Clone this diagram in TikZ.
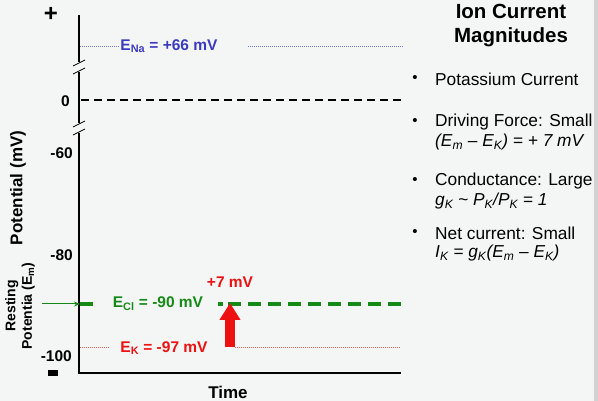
\documentclass[tikz,border=0pt]{standalone}
\usepackage{fontspec}
\setmainfont{Liberation Sans}
\usetikzlibrary{arrows.meta}
\definecolor{bg}{HTML}{F4F6F6}
\definecolor{naBlue}{HTML}{3B3BBE}
\definecolor{clGreen}{HTML}{168A16}
\definecolor{kRed}{HTML}{EE1111}
\tikzset{
  axisline/.style={line width=1.8pt, black},
  tick/.style={font=\fontsize{15.5}{17}\selectfont\bfseries, anchor=east, inner sep=0pt},
  lbl/.style={font=\fontsize{15.5}{17}\selectfont\bfseries, inner sep=0pt},
  itemtxt/.style={font=\fontsize{17.3}{20}\selectfont, anchor=west, inner sep=0pt},
  bullet/.style={font=\fontsize{15}{18}\selectfont, inner sep=0pt},
  brk/.style={line width=0.8pt, black},
  clline/.style={clGreen, line width=4.5pt},
}
\begin{document}
\begin{tikzpicture}[x=1pt,y=-1pt]
\useasboundingbox (0,0) rectangle (598,401);
\fill[bg] (0,0) rectangle (598,401);
\fill[gray!35] (594,0) rectangle (598,401);

% axes
\coordinate (top) at (79,15);
\coordinate (b1a) at (79,62);
\coordinate (b1b) at (79,72);
\coordinate (b2a) at (79,123);
\coordinate (b2b) at (79,133);
\coordinate (origin) at (79,373);
\coordinate (xend) at (401,373);
\draw[axisline] (top) -- (b1a);
\draw[axisline] (b1b) -- (b2a);
\draw[axisline] (b2b) -- (origin) -- (xend);
\draw[brk] (73,66) -- (85,60);
\draw[brk] (73,74) -- (85,68);
\draw[brk] (73,127) -- (85,121);
\draw[brk] (73,135) -- (85,129);

\node[font=\fontsize{24}{26}\selectfont\bfseries, inner sep=0pt] (plus) at (51,14) {+};
\fill[black] (48,370) rectangle (58,376);

% tick labels
\node[tick] (t0) at (70,101) {0};
\node[tick] (t60) at (73,153) {-60};
\node[tick] (t80) at (73,255) {-80};
\node[tick] (t100) at (72,356) {-100};

\node[lbl, rotate=90, font=\fontsize{17}{19}\selectfont\bfseries] (ylab) at (18,188) {Potential (mV)};
\node[lbl, rotate=90, align=center, font=\fontsize{14}{16.5}\selectfont\bfseries] (rest) at (20,306) {Resting\\Potentia (E\textsubscript{m})};
\node[lbl, font=\fontsize{17}{19}\selectfont\bfseries] (time) at (228,392) {Time};

% E_Na
\node[lbl, text=naBlue] (ena) at (169,46) {E\textsubscript{Na} = +66 mV};
\coordinate (ena0) at (80,46);
\coordinate (ena1) at (402,46);
\draw[naBlue!70, line width=0.6pt, dash pattern=on 1pt off 1pt] (ena0) -- ([xshift=-2pt]ena.west);
\draw[naBlue!70, line width=0.6pt, dash pattern=on 1pt off 1pt] ([xshift=30pt]ena.east) -- (ena1);

% zero line
\coordinate (z0) at (81,100);
\coordinate (z1) at (402,100);
\draw[black, line width=1.8pt, dash pattern=on 8pt off 5pt] (z0) -- (z1);

% E_Cl
\node[lbl, text=clGreen] (ecl) at (158,304) {E\textsubscript{Cl} = -90 mV};
\coordinate (cl0) at (80,304);
\coordinate (cl1) at (93,304);
\coordinate (cl2) at (218,304);
\coordinate (cl2b) at (223,304);
\coordinate (cl2c) at (228,304);
\coordinate (cl3) at (401,304);
\draw[clline] (cl0) -- (cl1);
\draw[clline] (cl2) -- (cl2b);
\draw[clline, dash pattern=on 13pt off 7pt] (cl2c) -- (cl3);
\coordinate (rarrow) at (42,304);
\draw[clGreen, line width=1pt, -{Stealth[length=6pt,width=5pt]}] (rarrow) -- (cl0);

% E_K
\node[lbl, text=kRed] (ek) at (164,348) {E\textsubscript{K} = -97 mV};
\coordinate (k0) at (80,347);
\coordinate (k1) at (110,347);
\coordinate (k2) at (235,347);
\coordinate (k3) at (401,347);
\draw[kRed!70, line width=0.6pt, dash pattern=on 1pt off 1pt] (k0) -- (k1);
\draw[kRed!70, line width=0.6pt, dash pattern=on 1pt off 1pt] (k2) -- (k3);

% red arrow
\coordinate (ra0) at (230,347);
\coordinate (ra1) at (230,303);
\draw[kRed, line width=10pt, -{Triangle[length=17pt,width=20pt]}] (ra0) -- (ra1);
\node[lbl, text=kRed] (plus7) at (230,282) {+7 mV};

% right panel
\node[align=center, font=\fontsize{20.5}{24}\selectfont\bfseries, inner sep=0pt] (title) at (511,26) {Ion Current\\Magnitudes};

\node[bullet] (b1) at (415,79) {•};
\node[itemtxt] (i1) at (435,79) {Potassium Current};
\node[bullet] (b2) at (415,122) {•};
\node[itemtxt] (i2) at (435,122) {Driving Force: Small};
\node[itemtxt] (i2b) at (435,142) {\itshape (E\textsubscript{m} – E\textsubscript{K}) = + 7 mV};
\node[bullet] (b3) at (415,181) {•};
\node[itemtxt] (i3) at (435,181) {Conductance: Large};
\node[itemtxt] (i3b) at (435,201) {\itshape g\textsubscript{K} \textasciitilde{} P\textsubscript{K}/P\textsubscript{K} = 1};
\node[bullet] (b4) at (415,233) {•};
\node[itemtxt] (i4) at (435,233) {Net current: Small};
\node[itemtxt] (i4b) at (435,253) {\itshape I\textsubscript{K} = g\textsubscript{K}(E\textsubscript{m} – E\textsubscript{K})};
\end{tikzpicture}
\end{document}
